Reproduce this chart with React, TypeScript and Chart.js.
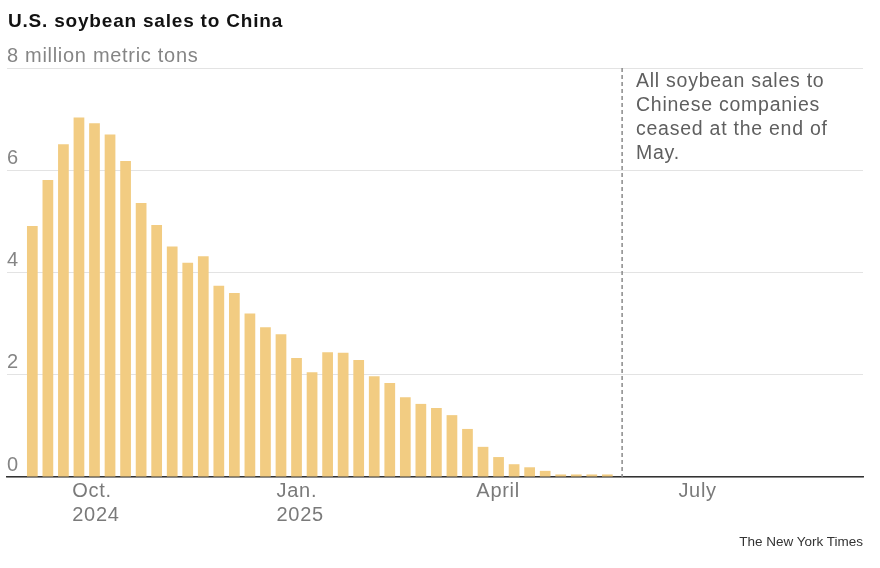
import React, { useEffect, useRef } from 'react';
import { Chart, registerables } from 'chart.js';

Chart.register(...registerables);

const titleText = 'U.S. soybean sales to China';
const sourceText = 'The New York Times';
const firstWeekDate = '2024-09-13';
// weekly sales, million metric tons
const weeklySales = [
  4.91, 5.81, 6.51, 7.03, 6.92, 6.7, 6.18, 5.36, 4.93, 4.51, 4.19, 4.32, 3.74, 3.6, 3.2, 2.93, 2.79, 2.33, 2.05,
  2.44, 2.43, 2.29, 1.97, 1.84, 1.56, 1.43, 1.35, 1.21, 0.94, 0.59, 0.39, 0.25, 0.19, 0.12, 0.05, 0.05, 0.05, 0.05,
];
const yTickValues = [0, 2, 4, 6, 8];
const yTickLabels = ['0', '2', '4', '6', '8 million metric tons'];
const monthTickDates = ['2024-10-01', '2025-01-01', '2025-04-01', '2025-07-01'];
const monthTickLabels = [['Oct.', '2024'], ['Jan.', '2025'], ['April'], ['July']];
const cutoffWeek = 37.95;
const xMinWeek = -1.63;
const xMaxWeek = 53.45;
const annotationLines = ['All soybean sales to', 'Chinese companies', 'ceased at the end of', 'May.'];

const weeksFromStart = (d: string) =>
  (new Date(d + 'T00:00:00Z').getTime() - new Date(firstWeekDate + 'T00:00:00Z').getTime()) / (7 * 86400000);

const FONT = '"Liberation Sans", Arial, sans-serif';
const SPACING = '0.7px';

export default function App() {
  const ref = useRef<HTMLCanvasElement | null>(null);

  useEffect(() => {
    if (!ref.current) return;
    const monthTickPositions = monthTickDates.map(weeksFromStart);

    const spacingPlugin = {
      id: 'spacing',
      beforeLayout(chart: any) {
        chart.ctx.letterSpacing = SPACING;
      },
      beforeDraw(chart: any) {
        chart.ctx.letterSpacing = SPACING;
      },
      afterDatasetsDraw(chart: any) {
        const ctx = chart.ctx;
        const x = chart.scales.x.getPixelForValue(cutoffWeek);
        ctx.save();
        ctx.setLineDash([4, 3]);
        ctx.strokeStyle = '#8a8a8a';
        ctx.lineWidth = 1.5;
        ctx.beginPath();
        ctx.moveTo(x, chart.chartArea.top);
        ctx.lineTo(x, chart.chartArea.bottom);
        ctx.stroke();
        ctx.restore();
      },
    };

    const chart = new Chart(ref.current, {
      type: 'bar',
      data: {
        datasets: [
          {
            data: weeklySales.map((v, i) => ({ x: i, y: v })),
            backgroundColor: '#F2CC82',
            borderWidth: 0,
            barPercentage: 0.69,
            categoryPercentage: 1,
          },
        ],
      },
      options: {
        animation: false,
        responsive: false,
        maintainAspectRatio: false,
        layout: { padding: { left: 7, right: 17, top: 68, bottom: 0 } },
        plugins: { legend: { display: false }, tooltip: { enabled: false }, title: { display: false } },
        scales: {
          x: {
            type: 'linear',
            offset: false,
            bounds: 'data',
            min: xMinWeek,
            max: xMaxWeek,
            afterBuildTicks: (s: any) => {
              s.ticks = monthTickPositions.map((v) => ({ value: v }));
            },
            afterFit: (s: any) => {
              s.height = 91;
            },
            ticks: {
              callback: (_v: any, i: number) => monthTickLabels[i],
              align: 'start',
              autoSkip: false,
              maxRotation: 0,
              minRotation: 0,
              padding: 2,
              color: '#7a7a7a',
              font: { family: FONT, size: 20, lineHeight: 1.2 },
            },
            grid: { display: false, drawTicks: false, offset: false },
            border: { display: true, color: '#333333', width: 1.5 },
          },
          y: {
            min: 0,
            max: 8,
            afterBuildTicks: (s: any) => {
              s.ticks = yTickValues.map((v) => ({ value: v }));
            },
            afterFit: (s: any) => {
              s.width = 0;
            },
            ticks: {
              mirror: true,
              padding: 0,
              labelOffset: -12,
              callback: (_v: any, i: number) => yTickLabels[i],
              color: '#858585',
              font: { family: FONT, size: 20 },
            },
            grid: { color: '#e3e3e3', lineWidth: 1, drawTicks: false },
            border: { display: false },
          },
        },
      } as any,
      plugins: [spacingPlugin],
    });
    return () => chart.destroy();
  }, []);

  return (
    <div style={{ position: 'fixed', left: 0, top: 0, width: 880, height: 568, background: '#fff', overflow: 'hidden' }}>
      <canvas ref={ref} width={880} height={568} style={{ position: 'absolute', left: 0, top: 0, width: 880, height: 568 }} />
      <div
        style={{
          position: 'absolute',
          left: 8,
          top: 11,
          fontFamily: FONT,
          fontWeight: 700,
          fontSize: 19,
          lineHeight: '19px',
          letterSpacing: '0.8px',
          color: '#121212',
          whiteSpace: 'nowrap',
        }}
      >
        {titleText}
      </div>
      <div
        style={{
          position: 'absolute',
          left: 636,
          top: 68,
          fontFamily: FONT,
          fontSize: 19.5,
          lineHeight: '24px',
          letterSpacing: '0.75px',
          color: '#5f5f5f',
          whiteSpace: 'nowrap',
        }}
      >
        {annotationLines.map((l, i) => (
          <div key={i}>{l}</div>
        ))}
      </div>
      <div
        style={{
          position: 'absolute',
          right: 17,
          top: 535,
          fontFamily: FONT,
          fontSize: 13.5,
          lineHeight: '13.5px',
          color: '#333',
          whiteSpace: 'nowrap',
        }}
      >
        {sourceText}
      </div>
    </div>
  );
}
